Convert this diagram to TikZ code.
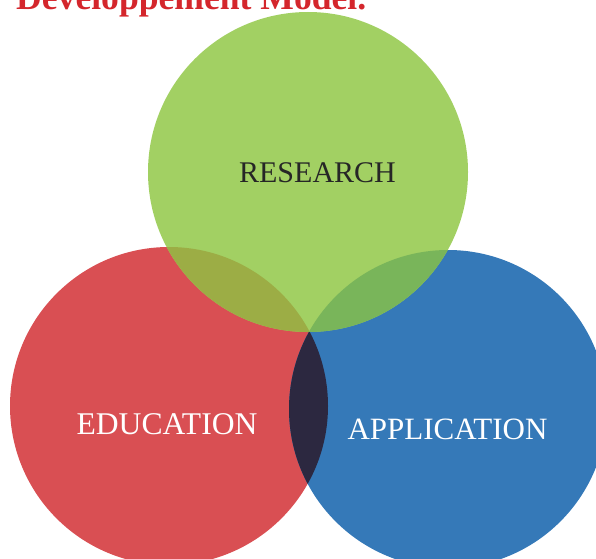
\documentclass[tikz,border=0pt]{standalone}
\usepackage{fontspec}
\setmainfont{Liberation Serif}
\definecolor{cgreen}{HTML}{A2D063}
\definecolor{cred}{HTML}{D94F53}
\definecolor{cblue}{HTML}{3579B8}
\definecolor{colive}{HTML}{9CAD45}
\definecolor{cgb}{HTML}{79B55A}
\definecolor{cdark}{HTML}{2C2840}
\definecolor{ctitle}{HTML}{D4262C}
\tikzset{
  lbl/.style={anchor=base, inner sep=0pt},
}
\begin{document}
\begin{tikzpicture}[x=1pt,y=1pt]
\useasboundingbox (0,0) rectangle (596,558);
\coordinate (G) at (308,386);
\coordinate (R) at (169,152);
\coordinate (B) at (448,149);
\def\rg{160}
\def\rr{159}
\def\rb{159}
\fill[cred] (R) circle (\rr);
\fill[cblue] (B) circle (\rb);
\begin{scope}
  \clip (R) circle (\rr);
  \fill[cdark] (B) circle (\rb);
\end{scope}
\fill[cgreen] (G) circle (\rg);
\begin{scope}
  \clip (G) circle (\rg);
  \fill[colive] (R) circle (\rr);
  \fill[cgb] (B) circle (\rb);
\end{scope}
\node[lbl, anchor=base west, text=ctitle, font=\fontsize{35.6}{40}\selectfont\bfseries] (title) at (16,548) {Developpement Model.};
\node[lbl, text=black!85, font=\fontsize{30}{34}\selectfont] (research) at (317.5,376) {RESEARCH};
\node[lbl, text=white, font=\fontsize{31.6}{36}\selectfont] (education) at (167,124) {EDUCATION};
\node[lbl, text=white, font=\fontsize{31}{36}\selectfont] (application) at (447.5,119) {APPLICATION};
\end{tikzpicture}
\end{document}
